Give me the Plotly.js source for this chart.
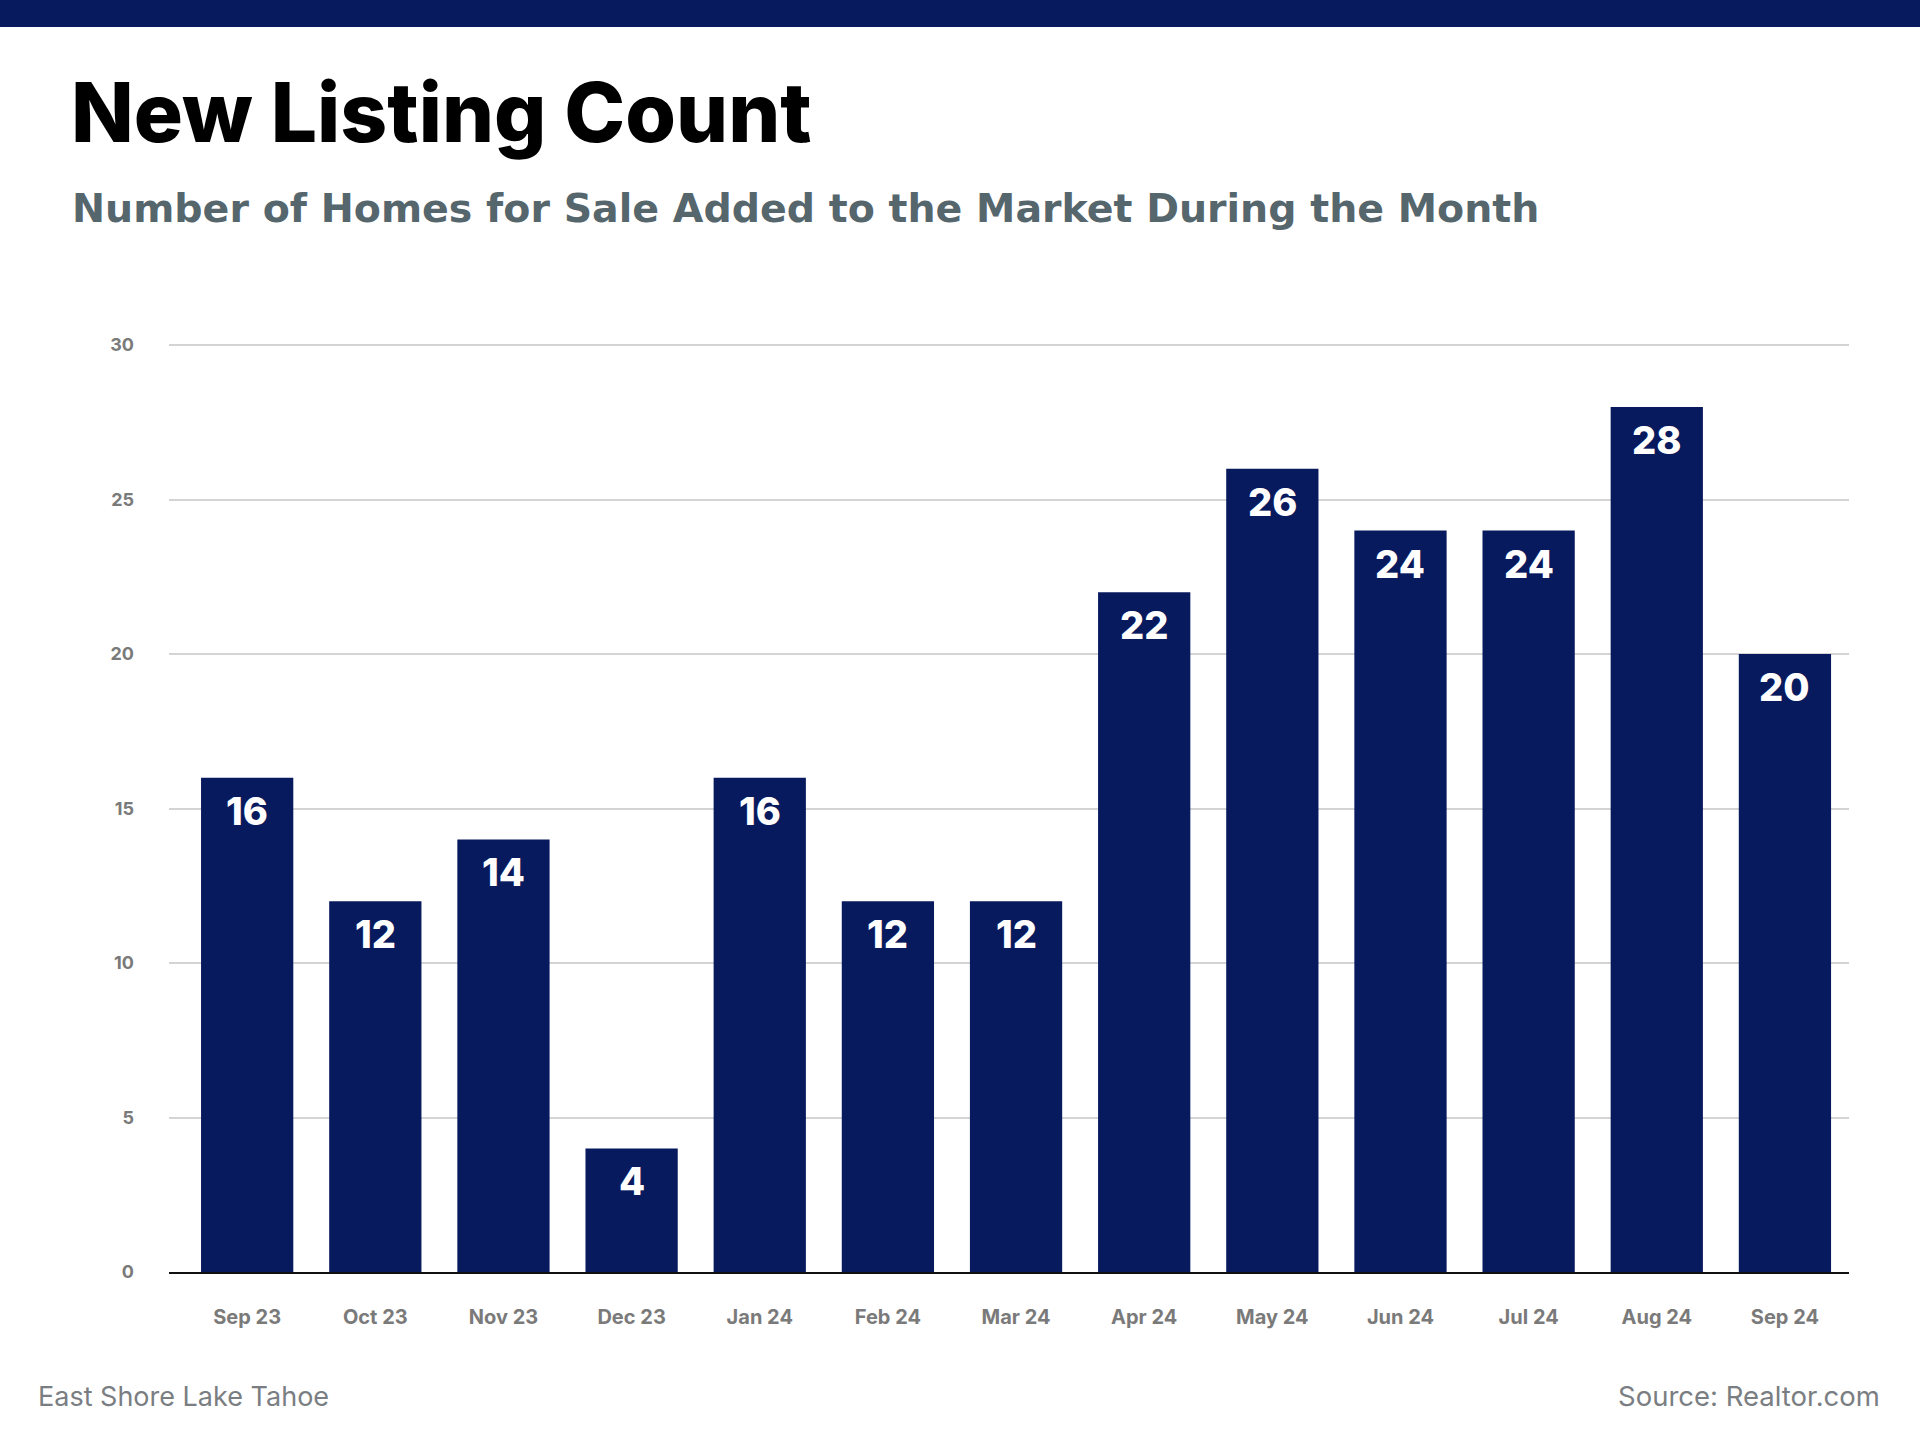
<!DOCTYPE html>
<html>
<head>
<meta charset="utf-8">
<script src="https://cdn.plot.ly/plotly-3.0.1.min.js"></script>
<style>
html,body{margin:0;padding:0;background:#fff;}
#chart{width:1920px;height:1440px;}
</style>
</head>
<body>
<div id="chart"></div>
<script>
const months = ["Sep 23","Oct 23","Nov 23","Dec 23","Jan 24","Feb 24","Mar 24","Apr 24","May 24","Jun 24","Jul 24","Aug 24","Sep 24"];
const newListings = [16,12,14,4,16,12,12,22,26,24,24,28,20];
const yTicks = [0,5,10,15,20,25,30];

const titleText = "New Listing Count";
const subtitleText = "Number of Homes for Sale Added to the Market During the Month";
const leftNote = "East Shore Lake Tahoe";
const sourceNote = "Source: Realtor.com";

const NAVY = "#081A5E";
const FONT = "Inter, 'Open Sans', sans-serif";

const W = 1920, H = 1440;
const mL = 169, mR = 71, mT = 339, mB = 168;
const pw = W - mL - mR, ph = H - mT - mB;
const px = x => (x - mL) / pw;
const py = y => (H - mB - y) / ph;

const trace = {
  type: "bar",
  x: months,
  y: newListings,
  marker: {color: NAVY, line: {width: 0}},
  hoverinfo: "skip"
};

const labelAnnotations = months.map((m, i) => ({
  x: m, y: newListings[i], xref: "x", yref: "y",
  text: String(newListings[i]), showarrow: false,
  yanchor: "top", yshift: -8,
  font: {family: FONT, size: 38, color: "#ffffff", weight: 800}
}));

const layout = {
  width: W, height: H,
  margin: {l: mL, r: mR, t: mT, b: mB, pad: 0},
  paper_bgcolor: "#ffffff",
  plot_bgcolor: "#ffffff",
  showlegend: false,
  bargap: 0.28,
  title: {
    text: titleText,
    x: 71 / W, xanchor: "left", xref: "container",
    y: 1 - 113 / H, yanchor: "middle", yref: "container",
    font: {family: FONT, size: 82, color: "#000000", weight: 800}
  },
  xaxis: {
    type: "category",
    range: [-0.61, 12.5],
    showgrid: false,
    showline: true, linecolor: "#111111", linewidth: 2,
    ticks: "", ticklabelstandoff: 26,
    tickfont: {family: FONT, size: 20, color: "#7a7a7a", weight: 700},
    fixedrange: true
  },
  yaxis: {
    range: [0, 30.2],
    tickvals: yTicks,
    ticktext: yTicks.map(String),
    showgrid: true, gridcolor: "#d4d4d4", gridwidth: 2,
    zeroline: false, showline: false,
    ticks: "", ticklabelstandoff: 34,
    tickfont: {family: FONT, size: 18, color: "#7a7a7a", weight: 700},
    fixedrange: true
  },
  shapes: [{
    type: "rect", xref: "paper", yref: "paper",
    x0: px(0), x1: px(W), y0: py(27), y1: py(0),
    fillcolor: NAVY, line: {width: 0}, layer: "above"
  }],
  annotations: labelAnnotations.concat([
    {
      xref: "paper", yref: "paper", x: px(70), y: py(208),
      xanchor: "left", yanchor: "middle", showarrow: false,
      text: subtitleText,
      font: {family: "'DejaVu Sans', " + FONT, size: 39.5, color: "#56666d", weight: 700}
    },
    {
      xref: "paper", yref: "paper", x: px(36), y: py(1396),
      xanchor: "left", yanchor: "middle", showarrow: false,
      text: leftNote,
      font: {family: FONT, size: 27, color: "#7a7e82", weight: 400}
    },
    {
      xref: "paper", yref: "paper", x: px(1882), y: py(1396),
      xanchor: "right", yanchor: "middle", showarrow: false,
      text: sourceNote,
      font: {family: FONT, size: 27.5, color: "#7a7e82", weight: 400}
    }
  ])
};

Plotly.newPlot("chart", [trace], layout, {displayModeBar: false, staticPlot: true});
</script>
</body>
</html>
